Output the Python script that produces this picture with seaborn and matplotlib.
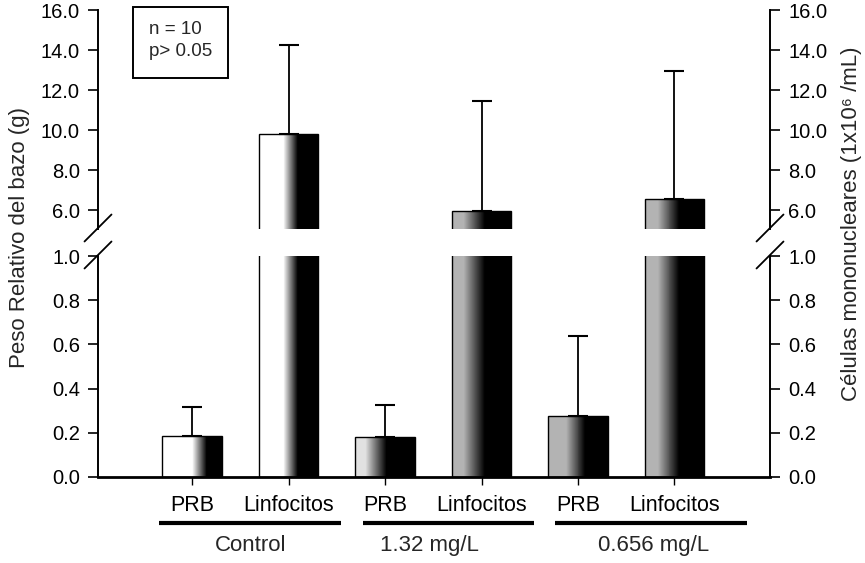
import numpy as np
import pandas as pd
import matplotlib
matplotlib.use("Agg")
import matplotlib.pyplot as plt
from matplotlib.lines import Line2D
from matplotlib.patches import Rectangle
import seaborn as sns

# ---------------- data ----------------
groups = ["Control", "1.32 mg/L", "0.656 mg/L"]
cell_types = ["PRB", "Linfocitos"]
bar_ids = ["Control PRB", "Control Linfocitos", "1.32 PRB", "1.32 Linfocitos",
           "0.656 PRB", "0.656 Linfocitos"]
bar_labels = ["PRB", "Linfocitos", "PRB", "Linfocitos", "PRB", "Linfocitos"]
means = [0.185, 9.80, 0.180, 5.97, 0.277, 6.58]
sd = [0.130, 4.45, 0.147, 5.51, 0.361, 6.40]
lower_ticks = [0.0, 0.2, 0.4, 0.6, 0.8, 1.0]
upper_ticks = [6.0, 8.0, 10.0, 12.0, 14.0, 16.0]
annot_lines = ["n = 10", "p> 0.05"]

# gradient styles per bar: (light value at left, start of ramp, end of ramp)
grad_style = [(1.0, 0.50, 0.74), (1.0, 0.41, 0.65), (0.88, 0.17, 0.52),
              (0.70, 0.20, 0.55), (0.70, 0.30, 0.62), (0.70, 0.22, 0.58)]

sns.set_theme(style="ticks")
plt.rcParams["font.family"] = ["Liberation Sans", "DejaVu Sans"]
plt.rcParams["axes.edgecolor"] = "black"
plt.rcParams["axes.linewidth"] = 1.4
plt.rcParams["xtick.color"] = "black"
plt.rcParams["ytick.color"] = "black"

W, H = 865, 563
fig = plt.figure(figsize=(W / 100, H / 100), dpi=100)
fig.patch.set_facecolor("white")

def fx(px):
    return px / W

def fy(py):
    return 1 - py / H

left_px, right_px = 98, 770
ax_top = fig.add_axes([fx(left_px), fy(228.5), fx(right_px - left_px), (228.5 - 10) / H])
ax_bot = fig.add_axes([fx(left_px), fy(477), fx(right_px - left_px), (477 - 256) / H])

df = pd.DataFrame({"bar": bar_ids, "mean": means, "sd": sd})

for ax in (ax_top, ax_bot):
    sns.barplot(data=df, x="bar", y="mean", order=bar_ids, ax=ax, color="white",
                edgecolor="black", linewidth=1.0, width=0.62, errorbar=None,
                saturation=1)
    patches = list(ax.patches)
    centers = []
    for i, p in enumerate(patches):
        x0, w, h = p.get_x(), p.get_width(), p.get_height()
        centers.append(x0 + w / 2)
        light, a, b = grad_style[i]
        n = 120
        edges = np.linspace(x0, x0 + w, n + 1)
        t = (np.arange(n) + 0.5) / n
        g = np.where(t < a, light, np.where(t > b, 0.0, light * (b - t) / (b - a)))
        ax.pcolormesh(edges, [0, h], g[None, :], cmap="gray", vmin=0, vmax=1,
                      shading="flat", zorder=1.5, edgecolors="none",
                      antialiased=False)
        p.set_facecolor("none")
        p.set_zorder(2)
    ax.errorbar(centers, df["mean"], yerr=[np.zeros(len(sd)), df["sd"]], fmt="none",
                ecolor="black", elinewidth=1.3, capsize=7, capthick=1.5, zorder=3)
    ax.set_xlim(-0.975, 5.99)
    ax.set_xlabel("")
    ax.set_ylabel("")
    ax.set_facecolor("none")
    ax.spines["top"].set_visible(False)
    ax.tick_params(axis="y", which="both", left=True, right=True, labelleft=True,
                   labelright=True, direction="out", length=7, width=1.2, pad=6,
                   labelsize=14.5)

ax_top.set_ylim(5.102, 16.0)
ax_top.set_yticks(upper_ticks, [f"{v:.1f}" for v in upper_ticks])
ax_top.spines["bottom"].set_visible(False)
ax_top.tick_params(axis="x", bottom=False, labelbottom=False)

ax_bot.set_ylim(0, 1.0)
ax_bot.set_yticks(lower_ticks, [f"{v:.1f}" for v in lower_ticks])
ax_bot.set_xticks(range(len(bar_labels)), bar_labels)
ax_bot.tick_params(axis="x", direction="out", length=6, width=1.0, pad=7, labelsize=15.5)
ax_bot.spines["bottom"].set_linewidth(2.0)

# group underlines and labels
underlines = [(-0.34, 1.54), (1.77, 3.54), (3.76, 5.75)]
label_x = [0.61, 2.46, 4.78]
trans = ax_bot.get_xaxis_transform()
for (a, b), gx, name in zip(underlines, label_x, groups):
    ax_bot.plot([a, b], [-0.208, -0.208], color="black", lw=3, transform=trans,
                clip_on=False, solid_capstyle="butt")
    ax_bot.text(gx, -0.31, name, transform=trans, ha="center", va="center",
                fontsize=16)

# axis labels
fig.text(fx(20), fy(238), "Peso Relativo del bazo (g)", rotation=90, ha="center",
         va="center", fontsize=16)
fig.text(fx(851), fy(224), "Células mononucleares (1x10\u2076 /mL)", rotation=90,
         ha="center", va="center", fontsize=16)

# annotation box
fig.add_artist(Rectangle((fx(133), fy(78)), fx(228 - 133), (78 - 7) / H,
                         transform=fig.transFigure, fill=False, edgecolor="black",
                         linewidth=1.4))
fig.text(fx(149), fy(30), annot_lines[0], ha="left", va="center", fontsize=13.5)
fig.text(fx(149), fy(52), annot_lines[1], ha="left", va="center", fontsize=13.5)

# axis break marks
for cx in (left_px, right_px):
    for cy in (228, 255):
        fig.add_artist(Line2D([fx(cx - 13.5), fx(cx + 13.5)],
                              [fy(cy + 13.5), fy(cy - 13.5)],
                              transform=fig.transFigure, color="black", lw=1.3))

fig.savefig("out.png", dpi=100, facecolor="white")
